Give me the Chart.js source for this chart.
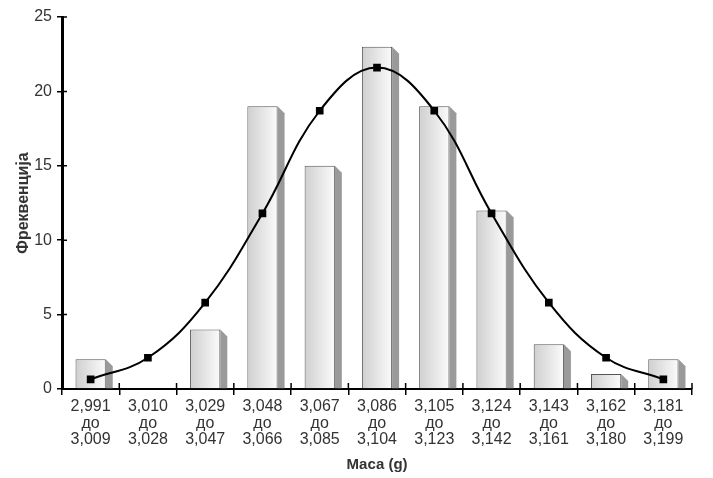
<!DOCTYPE html>
<html>
<head>
<meta charset="utf-8">
<script src="https://cdn.jsdelivr.net/npm/chart.js@4/dist/chart.umd.min.js"></script>
<style>
  html, body { margin: 0; padding: 0; background: #fff; }
  #wrap { width: 713px; height: 478px; }
</style>
</head>
<body>
<div id="wrap"><canvas id="grafik"></canvas></div>
<script>
const labels = [
  ['2,991', 'до', '3,009'], ['3,010', 'до', '3,028'], ['3,029', 'до', '3,047'],
  ['3,048', 'до', '3,066'], ['3,067', 'до', '3,085'], ['3,086', 'до', '3,104'],
  ['3,105', 'до', '3,123'], ['3,124', 'до', '3,142'], ['3,143', 'до', '3,161'],
  ['3,162', 'до', '3,180'], ['3,181', 'до', '3,199']
];
const frekvencija = [2, 0, 4, 19, 15, 23, 19, 12, 3, 1, 2];
const normalna = [0.65, 2.1, 5.8, 11.8, 18.7, 21.6, 18.7, 11.8, 5.8, 2.1, 0.65];
const yTicks = [0, 5, 10, 15, 20, 25];

const BAR_FRAC = 0.53;
const DEPTH = 7;

function barGradient(c) {
  const chart = c.chart;
  const xs = chart.scales.x;
  if (!chart.chartArea || !xs) return '#e4e4e4';
  const cx = xs.getPixelForValue(c.dataIndex);
  const w = xs.width / labels.length * BAR_FRAC;
  const g = chart.ctx.createLinearGradient(cx - w / 2, 0, cx + w / 2, 0);
  g.addColorStop(0, '#cfcfcf');
  g.addColorStop(1, '#fbfbfb');
  return g;
}

// bočna (3D) strana stubića
const sjenka = {
  id: 'sjenka',
  beforeDatasetDraw(chart, args) {
    if (args.index !== 1) return;
    const ctx = chart.ctx;
    const meta = chart.getDatasetMeta(1);
    ctx.save();
    ctx.fillStyle = '#9a9a9a';
    meta.data.forEach((bar, i) => {
      if (!frekvencija[i]) return;
      const right = bar.x + bar.width / 2;
      ctx.beginPath();
      ctx.moveTo(right, bar.y);
      ctx.lineTo(right + DEPTH, bar.y + DEPTH);
      ctx.lineTo(right + DEPTH, bar.base);
      ctx.lineTo(right, bar.base);
      ctx.closePath();
      ctx.fill();
    });
    ctx.restore();
  }
};

// crtice koje prelaze preko ose
const crtice = {
  id: 'crtice',
  afterDraw(chart) {
    const ctx = chart.ctx;
    const xs = chart.scales.x, ys = chart.scales.y;
    const a = chart.chartArea;
    ctx.save();
    ctx.strokeStyle = '#000';
    ctx.lineWidth = 1.5;
    ctx.beginPath();
    ys.ticks.forEach(t => {
      const y = ys.getPixelForValue(t.value);
      ctx.moveTo(a.left, y);
      ctx.lineTo(a.left + 5, y);
    });
    for (let i = 0; i <= labels.length; i++) {
      const x = xs.getPixelForValue(i - 0.5);
      ctx.moveTo(x, a.bottom);
      ctx.lineTo(x, a.bottom - 6);
    }
    ctx.stroke();
    ctx.restore();
  }
};

document.addEventListener('DOMContentLoaded', function() {
  const ctx = document.getElementById('grafik').getContext('2d');

  Chart.defaults.font.family = '"Liberation Sans", Arial, sans-serif';
  Chart.defaults.color = '#333';

  new Chart(ctx, {
    type: 'bar',
    data: {
      labels,
      datasets: [{
        type: 'line',
        data: normalna,
        borderColor: '#000',
        borderWidth: 2,
        tension: 0.4,
        pointStyle: 'rect',
        pointRadius: 4,
        pointBackgroundColor: '#000',
        pointBorderColor: '#000',
        order: 0
      }, {
        type: 'bar',
        data: frekvencija,
        backgroundColor: barGradient,
        borderColor: '#555',
        borderWidth: 1,
        barPercentage: 0.58,
        categoryPercentage: 0.91,
        order: 1
      }]
    },
    options: {
      responsive: true,
      maintainAspectRatio: false,
      animation: false,
      layout: { padding: { top: 17, right: 21, left: 0, bottom: 0 } },
      plugins: { legend: { display: false }, tooltip: { enabled: false } },
      scales: {
        x: {
          grid: { drawOnChartArea: false, tickLength: 6, color: '#000', lineWidth: 1.5 },
          border: { color: '#000', width: 2 },
          ticks: { font: { size: 16, lineHeight: 1.05 }, color: '#333', padding: 3, maxRotation: 0, autoSkip: false },
          title: { display: true, text: 'Маса (g)', font: { size: 15, weight: 'bold' }, color: '#333', padding: { top: 0 } },
          afterFit(s) { s.height = 89; }
        },
        y: {
          min: 0,
          max: 25,
          afterBuildTicks(s) { s.ticks = yTicks.map(v => ({ value: v })); },
          grid: { drawOnChartArea: false, tickLength: 5, color: '#000', lineWidth: 1.5 },
          border: { color: '#000', width: 3 },
          ticks: { font: { size: 16 }, color: '#333', padding: 5 },
          title: { display: true, text: 'Фреквенција', font: { size: 16, weight: 'bold' }, color: '#333', padding: { top: 14, bottom: 0 } },
          afterFit(s) { s.width = 62; }
        }
      }
    },
    plugins: [sjenka, crtice]
  });
});
</script>
</body>
</html>
